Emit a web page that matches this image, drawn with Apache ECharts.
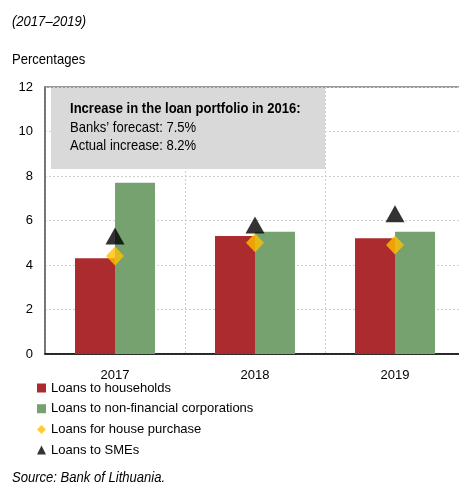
<!DOCTYPE html>
<html>
<head>
<meta charset="utf-8">
<script src="https://cdn.jsdelivr.net/npm/echarts@6/dist/echarts.min.js"></script>
<style>
  html, body { margin: 0; padding: 0; background: #fff; overflow: hidden; }
  #chart { width: 465px; height: 485px; }
</style>
</head>
<body>
<div id="chart"></div>
<script>
// Loan growth by category, percentages
const years = ['2017', '2018', '2019'];
const householdLoans = [4.3, 5.3, 5.2];
const corporateLoans = [7.7, 5.5, 5.5];
const housePurchaseLoans = [4.4, 5.0, 4.9];
const smeLoans = [5.3, 5.8, 6.3];

const seriesNames = [
  'Loans to households',
  'Loans to non-financial corporations',
  'Loans for house purchase',
  'Loans to SMEs'
];
const noteLines = [
  'Increase in the loan portfolio in 2016:',
  'Banks\u2019 forecast: 7.5%',
  'Actual increase: 8.2%'
];

const FONT = '"Liberation Sans", Arial, sans-serif';
// narrow look for free-standing captions
const SX = 0.87;

const chart = echarts.init(document.getElementById('chart'), null, { renderer: 'canvas' });

chart.setOption({
  animation: false,
  backgroundColor: '#ffffff',
  textStyle: { fontFamily: FONT },
  grid: {
    left: 45, top: 87, right: 0, bottom: 131,
    show: true, borderColor: '#7a7a7a', borderWidth: 1.5,
    containLabel: false
  },
  legend: {
    orient: 'vertical',
    left: 37, top: 380,
    padding: 0,
    itemWidth: 9, itemHeight: 9, itemGap: 4.7,
    selectedMode: false,
    textStyle: { fontFamily: FONT, fontSize: 13, color: '#000', lineHeight: 16 },
    data: [
      { name: seriesNames[0], icon: 'rect' },
      { name: seriesNames[1], icon: 'rect' },
      { name: seriesNames[2], icon: 'diamond', itemStyle: { color: '#ffc000' } },
      { name: seriesNames[3], icon: 'triangle' }
    ]
  },
  xAxis: {
    type: 'category',
    data: years,
    axisLine: { show: true, lineStyle: { color: '#000', width: 1.5 } },
    axisTick: { show: false },
    axisLabel: { fontFamily: FONT, fontSize: 13, color: '#000', margin: 15 },
    splitLine: { show: true, lineStyle: { color: '#cfcfcf', type: [2, 2], width: 1 } }
  },
  yAxis: {
    type: 'value',
    min: 0, max: 12, interval: 2,
    axisLine: { show: true, lineStyle: { color: '#666', width: 1.5 } },
    axisTick: { show: false },
    axisLabel: { fontFamily: FONT, fontSize: 13, color: '#000', margin: 12 },
    splitLine: { show: true, lineStyle: { color: '#cfcfcf', type: [2, 2], width: 1 } }
  },
  series: [
    {
      name: seriesNames[0], type: 'bar', data: householdLoans,
      barWidth: 40, barGap: '0%',
      itemStyle: { color: '#ab2b2e' }, z: 3
    },
    {
      name: seriesNames[1], type: 'bar', data: corporateLoans,
      barWidth: 40, barGap: '0%',
      itemStyle: { color: '#76a26f' }, z: 3
    },
    {
      name: seriesNames[2], type: 'scatter', data: housePurchaseLoans,
      symbol: 'diamond', symbolSize: [18, 19],
      itemStyle: { color: '#ffc000' }, z: 5
    },
    {
      name: seriesNames[3], type: 'scatter', data: smeLoans,
      symbol: 'triangle', symbolSize: [19, 17],
      itemStyle: { color: '#000' }, z: 6
    }
  ],
  graphic: [
    {
      type: 'text', x: 12, y: 14, scaleX: SX,
      style: { text: '(2017\u20132019)', fontFamily: FONT, fontSize: 15, fontStyle: 'italic', fill: '#000' }
    },
    {
      type: 'text', x: 12, y: 52, scaleX: SX,
      style: { text: 'Percentages', fontFamily: FONT, fontSize: 15, fill: '#000' }
    },
    {
      type: 'rect', z: 10,
      shape: { x: 51, y: 88, width: 274, height: 81 },
      style: { fill: '#d9d9d9' }
    },
    {
      type: 'text', z: 11, x: 70, y: 100, scaleX: SX,
      style: {
        text: '{b|' + noteLines[0] + '}\n{n|' + noteLines[1] + '}\n{n|' + noteLines[2] + '}',
        fontFamily: FONT,
        rich: {
          b: { fontFamily: FONT, fontSize: 15, fontWeight: 'bold', fill: '#000', lineHeight: 18.5 },
          n: { fontFamily: FONT, fontSize: 15, fill: '#000', lineHeight: 18.5 }
        }
      }
    },
    {
      type: 'text', x: 12, y: 470, scaleX: SX,
      style: { text: 'Source: Bank of Lithuania.', fontFamily: FONT, fontSize: 15, fontStyle: 'italic', fill: '#000' }
    }
  ]
});
</script>
</body>
</html>
